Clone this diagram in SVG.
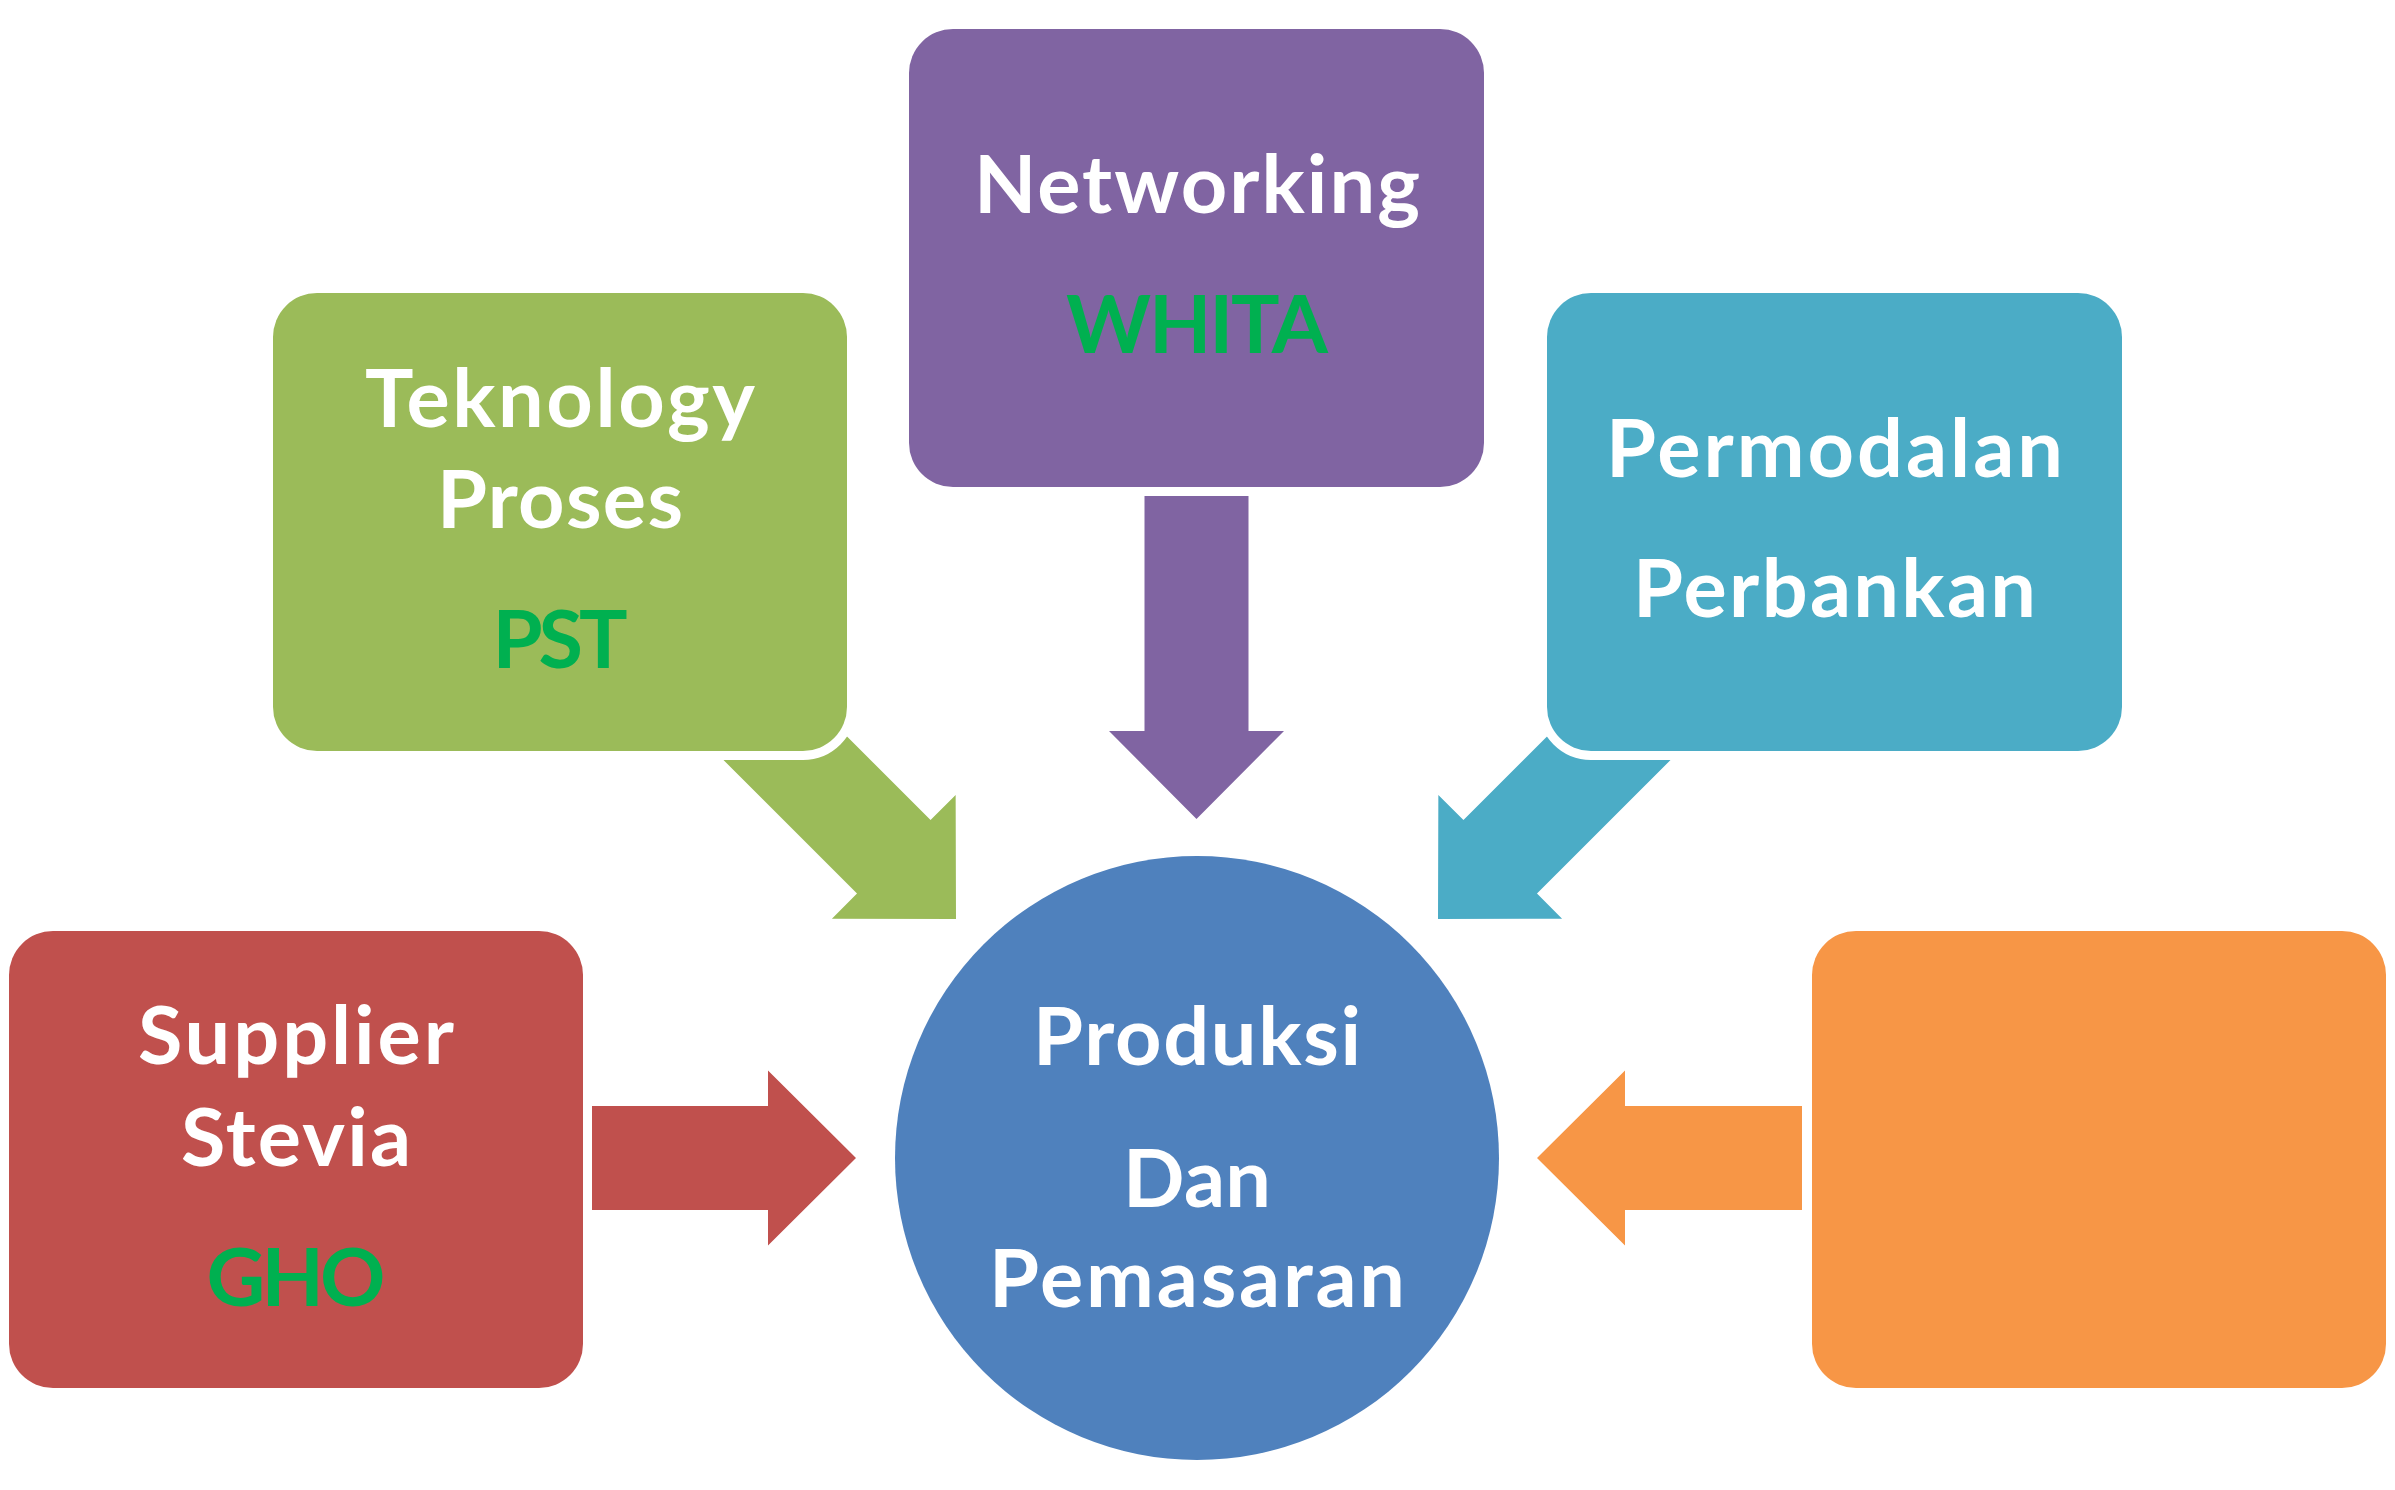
<svg xmlns="http://www.w3.org/2000/svg" xmlns:xlink="http://www.w3.org/1999/xlink" width="2395" height="1490" viewBox="0 0 2395 1490">
<style>
.box{stroke:#FFFFFF;stroke-width:18;paint-order:stroke}
.t{font-family:Lato,"Open Sans","Liberation Sans",sans-serif;font-weight:700;font-size:81px;text-anchor:middle;fill:#FFFFFF}
.g{fill:#00B050}
</style>
<defs>
<path id="arrowLong" d="M0,0 L87.5,-88 L52,-88 L52,-323 L-52,-323 L-52,-88 L-87.5,-88 Z"/>
<path id="arrowShort" d="M0,0 L87.5,-88 L52,-88 L52,-265 L-52,-265 L-52,-88 L-87.5,-88 Z"/>
</defs>
<rect width="2395" height="1490" fill="#FFFFFF"/>
<g id="connectors">
<use xlink:href="#arrowLong" fill="#8064A2" transform="translate(1196.5,819)"/>
<use xlink:href="#arrowLong" fill="#9BBB59" transform="translate(956,919) rotate(-45)"/>
<use xlink:href="#arrowLong" fill="#4BACC6" transform="translate(1438,919) rotate(45)"/>
<use xlink:href="#arrowShort" fill="#C0504D" transform="translate(856,1158) rotate(-90)"/>
<use xlink:href="#arrowShort" fill="#F79646" transform="translate(1537,1158) rotate(90)"/>
</g>
<g id="networking">
<rect class="box" x="909" y="29" width="575" height="458" rx="44" fill="#8064A2"/>
<text class="t" x="1197" y="213" textLength="446" lengthAdjust="spacing">Networking</text>
<text class="t g" x="1197" y="353" textLength="262" lengthAdjust="spacing">WHITA</text>
</g>
<g id="teknology">
<rect class="box" x="273" y="293" width="574" height="458" rx="44" fill="#9BBB59"/>
<text class="t" x="560" y="427" textLength="390" lengthAdjust="spacing">Teknology</text>
<text class="t" x="560" y="528" textLength="246" lengthAdjust="spacing">Proses</text>
<text class="t g" x="560" y="668" textLength="135" lengthAdjust="spacing">PST</text>
</g>
<g id="permodalan">
<rect class="box" x="1547" y="293" width="575" height="458" rx="44" fill="#4BACC6"/>
<text class="t" x="1834.5" y="477" textLength="457" lengthAdjust="spacing">Permodalan</text>
<text class="t" x="1834.5" y="617" textLength="403" lengthAdjust="spacing">Perbankan</text>
</g>
<g id="supplier">
<rect class="box" x="9" y="931" width="574" height="457" rx="44" fill="#C0504D"/>
<text class="t" x="296" y="1064" textLength="316" lengthAdjust="spacing">Supplier</text>
<text class="t" x="296" y="1166" textLength="230" lengthAdjust="spacing">Stevia</text>
<text class="t g" x="296" y="1306" textLength="179" lengthAdjust="spacing">GHO</text>
</g>
<g id="orange-node">
<rect class="box" x="1812" y="931" width="574" height="457" rx="44" fill="#F79646"/>
</g>
<g id="produksi">
<circle cx="1197" cy="1158" r="302" fill="#4F81BD"/>
<text class="t" x="1197" y="1065" textLength="328" lengthAdjust="spacing">Produksi</text>
<text class="t" x="1197" y="1207" textLength="148" lengthAdjust="spacing">Dan</text>
<text class="t" x="1197" y="1307" textLength="416" lengthAdjust="spacing">Pemasaran</text>
</g>
</svg>
